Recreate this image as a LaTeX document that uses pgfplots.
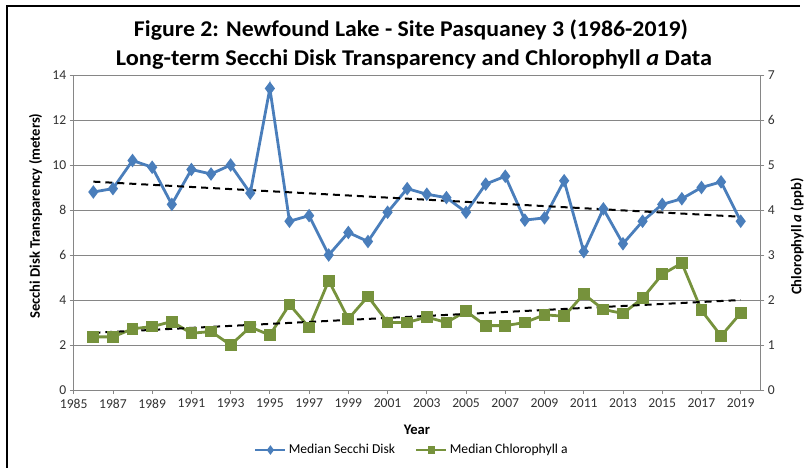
\documentclass[border=0pt]{standalone}
\usepackage{fontspec}
\setmainfont{Carlito}
\usepackage{graphicx}
\usepackage{pgfplots}
\pgfplotsset{compat=1.18}
\definecolor{sblue}{RGB}{74,126,187}
\definecolor{cgreen}{RGB}{118,146,60}
\definecolor{gridgray}{RGB}{134,134,134}
\definecolor{ticktext}{RGB}{50,50,50}

\pgfplotstableread{
year secchi
1986 8.8
1987 8.95
1988 10.2
1989 9.9
1990 8.25
1991 9.8
1992 9.6
1993 10.0
1994 8.75
1995 13.4
1996 7.5
1997 7.75
1998 6.0
1999 7.0
2000 6.6
2001 7.9
2002 8.95
2003 8.7
2004 8.55
2005 7.9
2006 9.15
2007 9.5
2008 7.55
2009 7.65
2010 9.3
2011 6.15
2012 8.05
2013 6.5
2014 7.5
2015 8.25
2016 8.5
2017 9.0
2018 9.25
2019 7.5
}\secchitab

\pgfplotstableread{
year chl
1986 1.18
1987 1.18
1988 1.36
1989 1.41
1990 1.52
1991 1.26
1992 1.30
1993 1.00
1994 1.40
1995 1.22
1996 1.90
1997 1.39
1998 2.43
1999 1.58
2000 2.08
2001 1.50
2002 1.50
2003 1.62
2004 1.50
2005 1.75
2006 1.43
2007 1.43
2008 1.50
2009 1.67
2010 1.64
2011 2.13
2012 1.79
2013 1.70
2014 2.04
2015 2.57
2016 2.82
2017 1.77
2018 1.20
2019 1.71
}\chltab

\pgfplotsset{
  common/.style={
    at={(73.7bp,78bp)}, anchor=south west, scale only axis,
    width=686.6bp, height=315bp,
    xmin=1985, xmax=2020,
    axis line style={gridgray, line width=0.8bp, -},
    tick align=outside, major tick length=4bp,
    tick style={gridgray, line width=0.8bp},
    /pgf/number format/assume math mode=true,
    /pgf/number format/1000 sep={},
    ticklabel style={font=\fontsize{13.6bp}{15bp}\selectfont, text=ticktext},
    label style={font=\fontsize{14.6bp}{17bp}\selectfont\bfseries},
  },
  legend image code/.code={\draw[mark repeat=2,mark phase=2] plot coordinates {(0bp,0bp) (15bp,0bp) (30bp,0bp)};},
}

\begin{document}
\begin{tikzpicture}
\path[use as bounding box] (0,0) rectangle (806bp,468bp);
\draw[line width=2bp] (6.5bp,0) -- (6.5bp,462bp) -- (800bp,462bp);
\node[anchor=base, inner sep=0pt, font=\fontsize{22.5bp}{25bp}\selectfont\bfseries] at (411bp,431bp) {\resizebox{554bp}{\height}{Figure 2: Newfound Lake - Site Pasquaney 3 (1986-2019)}};
\node[anchor=base, inner sep=0pt, font=\fontsize{22.5bp}{25bp}\selectfont\bfseries] at (414bp,402bp) {\resizebox{596bp}{\height}{Long-term Secchi Disk Transparency and Chlorophyll \textit{a} Data}};

\begin{axis}[common,
  ymin=0, ymax=14,
  xtick={1985,1987,...,2019}, ytick={0,2,...,14},
  axis x line*=bottom, axis y line*=left,
  ymajorgrids, grid style={gridgray, line width=0.8bp},
  xticklabel style={yshift=-1.5bp},
  ylabel={Secchi Disk Transparency (meters)},
  ylabel style={at={(axis description cs:-0.0555,0.552)}, anchor=center},
  xlabel={Year},
  xlabel style={at={(axis description cs:0.5,-0.127)}, anchor=center},
  legend style={at={(axis description cs:0.4925,-0.1905)}, anchor=center,
    draw=none, fill=none, legend columns=2,
    font=\fontsize{13.6bp}{15bp}\selectfont,
    /tikz/every even column/.append style={column sep=18bp}},
  legend image post style={mark size=2.5bp},
]
\addplot[sblue, line width=2.8bp, mark=diamond*, mark size=4.5bp, mark options={solid}] table[x=year, y=secchi] {\secchitab};
\addlegendentry{Median Secchi Disk}
\addlegendimage{cgreen, line width=2.8bp, mark=square*, mark size=4.5bp}
\addlegendentry{Median Chlorophyll a}
\addplot[black, line width=2bp, dash pattern=on 7bp off 5bp, forget plot] coordinates {(1986,9.26) (2019,7.7)};
\end{axis}

\begin{axis}[common,
  ymin=0, ymax=7, ytick={0,1,...,7},
  axis y line*=right, axis x line=none,
  ylabel={Chlorophyll \textit{a} (ppb)},
  ylabel style={at={(axis description cs:1.0535,0.487)}, anchor=center},
]
\addplot[cgreen, line width=2.8bp, mark=square*, mark size=4.5bp, mark options={solid}] table[x=year, y=chl] {\chltab};
\addplot[black, line width=2bp, dash pattern=on 7bp off 5bp] coordinates {(1986,1.27) (2019,2.0)};
\end{axis}
\end{tikzpicture}
\end{document}
